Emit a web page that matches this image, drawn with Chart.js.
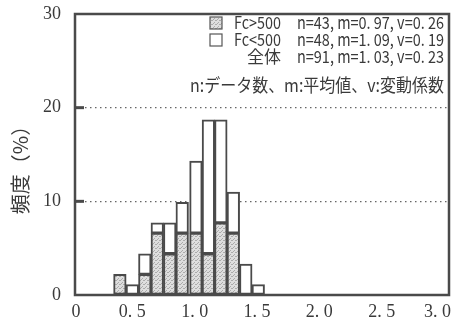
<!DOCTYPE html>
<html>
<head>
<meta charset="utf-8">
<script src="https://cdn.jsdelivr.net/npm/chart.js@4/dist/chart.umd.min.js"></script>
<style>
  html, body { margin: 0; padding: 0; background: #fff; }
</style>
</head>
<body>
<canvas id="chart" width="453" height="329"></canvas>
<script>
// bin centres (ratio) and frequency (%) per group
const binCenters = [0.36, 0.46, 0.56, 0.66, 0.76, 0.86, 0.97, 1.07, 1.17, 1.27, 1.37, 1.47];
const over500 = [2.2, 0, 2.2, 6.6, 4.4, 6.6, 6.6, 4.4, 7.7, 6.6, 0, 0];
const under500 = [0, 1.1, 2.2, 1.1, 3.3, 3.3, 7.7, 14.3, 11.0, 4.4, 3.3, 1.1];

const xTicks = [0, 0.5, 1.0, 1.5, 2.0, 2.5, 3.0];
const xTickLabels = ['0', '0. 5', '1. 0', '1. 5', '2. 0', '2. 5', '3. 0'];
const yTicks = [0, 10, 20, 30];

const legendNames = ['Fc>500', 'Fc<500', '全体'];
const legendStats = ['n=43, m=0. 97, v=0. 26', 'n=48, m=1. 09, v=0. 19', 'n=91, m=1. 03, v=0. 23'];
const legendNote = 'n:データ数、m:平均値、v:変動係数';
const yTitle = '頻度（%）';

const EDGE = '#4a4a4a';
const TEXT = '#3a3a3a';
const TICK_FONT = { family: '"Liberation Serif", serif', size: 18 };
const JP_FONT = '"Noto Sans CJK JP", sans-serif';

// light stipple used for the Fc>500 bars
function makeStipple() {
  const c = document.createElement('canvas');
  c.width = 4; c.height = 4;
  const g = c.getContext('2d');
  g.fillStyle = '#dedede';
  g.fillRect(0, 0, 4, 4);
  g.fillStyle = '#ababab';
  g.fillRect(0, 0, 1, 1);
  g.fillRect(2, 2, 1, 1);
  g.fillRect(3, 0, 1, 1);
  g.fillRect(1, 3, 1, 1);
  return document.getElementById('chart').getContext('2d').createPattern(c, 'repeat');
}
const stipple = makeStipple();

function toPoints(values) {
  return binCenters.map(function(x, i) { return { x: x, y: values[i] }; });
}

// draw text squeezed horizontally so it spans the given width
function fitText(ctx, text, x, y, width, align) {
  const w = ctx.measureText(text).width;
  const sx = Math.min(1, width / w);
  ctx.save();
  ctx.textAlign = 'left';
  let x0 = x;
  if (align === 'right') x0 = x - w * sx;
  ctx.translate(x0, y);
  ctx.scale(sx, 1);
  ctx.fillText(text, 0, 0);
  ctx.restore();
}

// frame, inner tick marks, axis texts and the text legend
const framePlugin = {
  id: 'frame',
  afterDraw: function(chart) {
    const ctx = chart.ctx;
    const a = chart.chartArea;
    const xs = chart.scales.x;
    const ys = chart.scales.y;
    ctx.save();
    ctx.setLineDash([]);
    ctx.strokeStyle = EDGE;
    ctx.lineWidth = 2.5;
    ctx.beginPath();
    ctx.rect(a.left, a.top, a.right - a.left, a.bottom - a.top);
    ctx.stroke();
    ctx.lineWidth = 3;
    yTicks.slice(1, -1).forEach(function(v) {
      const py = ys.getPixelForValue(v);
      ctx.beginPath();
      ctx.moveTo(a.left, py);
      ctx.lineTo(a.left + 9, py);
      ctx.stroke();
    });

    // x tick labels (the picture sets them a little left of the tick)
    ctx.font = TICK_FONT.size + 'px ' + TICK_FONT.family;
    ctx.fillStyle = TEXT;
    ctx.textBaseline = 'top';
    ctx.textAlign = 'center';
    xTicks.forEach(function(v, i) {
      const label = xTickLabels[i];
      const w = ctx.measureText(label).width;
      let cx = xs.getPixelForValue(v) - (i === 0 ? -1 : 5);
      cx = Math.min(cx, chart.width - 2 - w / 2);
      ctx.fillText(label, cx, a.bottom + 8);
    });

    // y title
    ctx.save();
    ctx.translate(20, 165);
    ctx.rotate(-Math.PI / 2);
    ctx.font = '20px ' + JP_FONT;
    ctx.fillStyle = TEXT;
    ctx.textAlign = 'center';
    ctx.textBaseline = 'middle';
    ctx.fillText(yTitle, 0, 0);
    ctx.restore();

    // legend
    const rowY = [23, 40, 57];
    ctx.font = '17px ' + JP_FONT;
    ctx.fillStyle = TEXT;
    ctx.textBaseline = 'middle';
    for (let i = 0; i < legendNames.length; i++) {
      fitText(ctx, legendNames[i], 281, rowY[i], 47, 'right');
      fitText(ctx, legendStats[i], 297, rowY[i], 147, 'left');
    }
    ctx.lineWidth = 1.2;
    ctx.strokeStyle = '#555';
    ctx.fillStyle = stipple;
    ctx.fillRect(210, rowY[0] - 6, 12, 12);
    ctx.strokeRect(210, rowY[0] - 6, 12, 12);
    ctx.fillStyle = '#fff';
    ctx.fillRect(210, rowY[1] - 6, 12, 12);
    ctx.strokeRect(210, rowY[1] - 6, 12, 12);
    ctx.fillStyle = TEXT;
    ctx.font = '18px ' + JP_FONT;
    fitText(ctx, legendNote, 444, 85, 254, 'right');
    ctx.restore();
  }
};

new Chart(document.getElementById('chart'), {
  type: 'bar',
  data: {
    datasets: [
      {
        label: 'Fc>500',
        data: toPoints(over500),
        backgroundColor: stipple,
        borderColor: EDGE,
        borderWidth: 2,
        borderSkipped: false,
        barThickness: 12.6
      },
      {
        label: 'Fc<500',
        data: toPoints(under500),
        backgroundColor: '#ffffff',
        borderColor: EDGE,
        borderWidth: 2,
        borderSkipped: false,
        barThickness: 12.6
      }
    ]
  },
  options: {
    responsive: false,
    animation: false,
    layout: { padding: { left: 0, right: 4, top: 14, bottom: 0 } },
    plugins: {
      legend: { display: false },
      tooltip: { enabled: false }
    },
    scales: {
      x: {
        type: 'linear',
        stacked: true,
        min: 0,
        max: 3,
        offset: false,
        afterBuildTicks: function(s) {
          s.ticks = xTicks.map(function(v) { return { value: v }; });
        },
        ticks: { display: false },
        grid: { display: false },
        border: { display: false },
        afterFit: function(s) {
          s.height = 34;
          s.paddingLeft = 0;
          s.paddingRight = 0;
        }
      },
      y: {
        stacked: true,
        min: 0,
        max: 30,
        afterBuildTicks: function(s) {
          s.ticks = yTicks.map(function(v) { return { value: v }; });
        },
        ticks: {
          font: TICK_FONT,
          color: TEXT,
          padding: 14
        },
        grid: {
          drawTicks: false,
          color: function(c) {
            return (c.tick && (c.tick.value === 0 || c.tick.value === 30)) ? 'rgba(0,0,0,0)' : '#666';
          },
          lineWidth: 1.3
        },
        border: { display: false, dash: [1.5, 3.5] },
        afterFit: function(s) {
          s.width = 75;
          s.paddingTop = 0;
          s.paddingBottom = 0;
        }
      }
    }
  },
  plugins: [framePlugin]
});
</script>
</body>
</html>
